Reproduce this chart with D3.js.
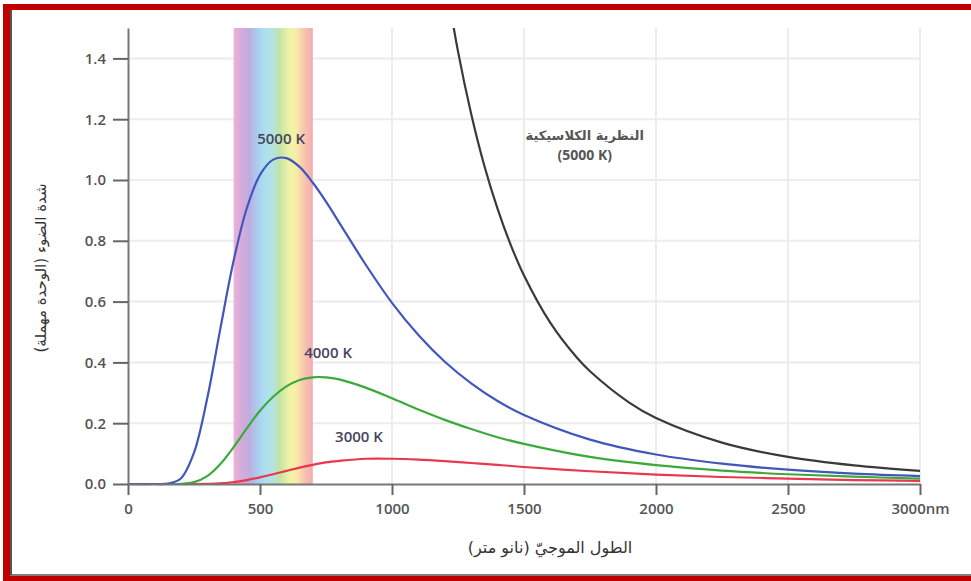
<!DOCTYPE html>
<html>
<head>
<meta charset="utf-8">
<script src="https://cdn.jsdelivr.net/npm/d3@7"></script>
<style>
  body { margin: 0; background: #fff; }
  #chart { width: 971px; height: 581px; }
  text { font-family: "Open Sans", "DejaVu Sans", sans-serif; }
</style>
</head>
<body>
<div id="chart"></div>
<script>
// wavelengths (nm) and relative intensities
const wavelengths = [0, 100, 150, 200, 250, 300, 350, 400, 450, 500, 550, 600, 650, 700, 750, 800,
    900, 1000, 1100, 1200, 1300, 1400, 1500, 1750, 2000, 2250, 2500, 2750, 3000];
const k5000 = [0, 0, 0.001, 0.018, 0.103, 0.281, 0.512, 0.734, 0.907, 1.017, 1.067, 1.072, 1.043, 0.991, 0.929, 0.860,
    0.722, 0.596, 0.490, 0.402, 0.331, 0.273, 0.227, 0.146, 0.097, 0.067, 0.047, 0.034, 0.026];
const k4000 = [0, 0, 0, 0.0005, 0.006, 0.026, 0.066, 0.121, 0.183, 0.241, 0.287, 0.321, 0.342, 0.351, 0.351, 0.344,
    0.317, 0.282, 0.245, 0.211, 0.181, 0.154, 0.132, 0.089, 0.062, 0.044, 0.032, 0.024, 0.018];
const k3000 = [0, 0, 0, 0, 0, 0.0005, 0.002, 0.006, 0.013, 0.022, 0.032, 0.043, 0.054, 0.063, 0.071, 0.076,
    0.083, 0.083, 0.080, 0.075, 0.069, 0.063, 0.056, 0.042, 0.031, 0.023, 0.018, 0.013, 0.010];

// classical theory (5000 K)
const classicalWl = [1200, 1250, 1300, 1350, 1400, 1450, 1500, 1600, 1700, 1750, 1900, 2000, 2250, 2500, 2750, 3000];
const classicalVals = [1.676, 1.423, 1.217, 1.046, 0.905, 0.786, 0.686, 0.530, 0.416, 0.371, 0.267, 0.217, 0.136, 0.089, 0.061, 0.043];

const xTicks = [0, 500, 1000, 1500, 2000, 2500, 3000];
const yTicks = [0, 0.2, 0.4, 0.6, 0.8, 1.0, 1.2, 1.4];
const visibleBand = [400, 700];

const series = [
    {name: "3000 K", values: k3000, color: "#e8374f"},
    {name: "4000 K", values: k4000, color: "#3caa3a"},
    {name: "5000 K", values: k5000, color: "#4256bb"}
];

const margin = {top: 28, right: 51, bottom: 97, left: 128};
const W = 971, H = 581;
const width = W - margin.left - margin.right;
const height = H - margin.top - margin.bottom;

const svg = d3.select("#chart").append("svg")
    .attr("width", W)
    .attr("height", H);

// frame
svg.append("rect").attr("x", 3).attr("y", 4).attr("width", 968).attr("height", 6).attr("fill", "#c00000");
svg.append("rect").attr("x", 3).attr("y", 4).attr("width", 7).attr("height", 577).attr("fill", "#c00000");
svg.append("rect").attr("x", 3).attr("y", 576).attr("width", 968).attr("height", 5).attr("fill", "#c00000");
svg.append("line").attr("x1", 11).attr("x2", 11).attr("y1", 10).attr("y2", 575)
    .attr("stroke", "#555").attr("stroke-width", 2);
svg.append("line").attr("x1", 10).attr("x2", 971).attr("y1", 575).attr("y2", 575)
    .attr("stroke", "#555").attr("stroke-width", 1.5);

const g = svg.append("g")
    .attr("transform", `translate(${margin.left},${margin.top})`);

const x = d3.scaleLinear().domain([0, 3000]).range([0, width]);
const y = d3.scaleLinear().domain([0, 1.5]).range([height, 0]);

// grid
g.selectAll(".hgrid").data(yTicks.slice(1)).join("line")
    .attr("x1", 0).attr("x2", width)
    .attr("y1", d => y(d)).attr("y2", d => y(d))
    .attr("stroke", "#ececec").attr("stroke-width", 2);
g.selectAll(".vgrid").data(xTicks.slice(1)).join("line")
    .attr("x1", d => x(d)).attr("x2", d => x(d))
    .attr("y1", 0).attr("y2", height)
    .attr("stroke", "#ececec").attr("stroke-width", 2);

// visible spectrum band
const defs = svg.append("defs");
const grad = defs.append("linearGradient").attr("id", "spectrum")
    .attr("x1", "0%").attr("x2", "100%").attr("y1", "0%").attr("y2", "0%");
[
    [0, "#ebb3d8"], [0.1, "#d6abda"], [0.2, "#bcaee0"], [0.3, "#aacdee"], [0.4, "#ade0f0"],
    [0.5, "#b5e3e0"], [0.58, "#c3e3a6"], [0.7, "#eef3a6"], [0.78, "#f8efa6"], [0.88, "#f8c9b0"], [1, "#f5a9b0"]
].forEach(s => grad.append("stop").attr("offset", s[0]).attr("stop-color", s[1]));

g.append("rect")
    .attr("x", x(visibleBand[0]))
    .attr("y", 0)
    .attr("width", x(visibleBand[1]) - x(visibleBand[0]))
    .attr("height", height)
    .attr("fill", "url(#spectrum)");

// clip for curves
defs.append("clipPath").attr("id", "plotClip").append("rect")
    .attr("x", 0).attr("y", 0).attr("width", width).attr("height", height + 2);

const line = d3.line()
    .x(d => x(d[0]))
    .y(d => y(Math.max(0, d[1])))
    .curve(d3.curveCatmullRom.alpha(0.5));

const curves = g.append("g").attr("clip-path", "url(#plotClip)");

series.forEach(s => {
    curves.append("path")
        .datum(wavelengths.map((w, i) => [w, s.values[i]]))
        .attr("fill", "none")
        .attr("stroke", s.color)
        .attr("stroke-width", 2.2)
        .attr("d", line);
});

curves.append("path")
    .datum(classicalWl.map((w, i) => [w, classicalVals[i]]))
    .attr("fill", "none")
    .attr("stroke", "#3a3a3a")
    .attr("stroke-width", 2.2)
    .attr("d", line);

// axes
const xAxis = g.append("g")
    .attr("transform", `translate(0,${height})`)
    .call(d3.axisBottom(x).tickValues(xTicks)
        .tickFormat(d => d === 3000 ? "3000nm" : d)
        .tickSize(11).tickSizeOuter(0).tickPadding(8));

const yAxis = g.append("g")
    .call(d3.axisLeft(y).tickValues(yTicks)
        .tickFormat(d3.format(".1f"))
        .tickSize(15).tickSizeOuter(0).tickPadding(7));

[xAxis, yAxis].forEach(a => {
    a.select(".domain").attr("stroke", "#777").attr("stroke-width", 2);
    a.selectAll(".tick line").attr("stroke", "#666").attr("stroke-width", 2);
    a.selectAll(".tick text")
        .attr("fill", "#555")
        .style("font-size", "15px")
        .style("font-weight", "600")
        .style("font-family", "'Open Sans', sans-serif");
});

// curve labels
const labelStyle = sel => sel
    .attr("fill", "#454560")
    .style("font-size", "15px")
    .style("font-weight", "600");

g.append("text").attr("x", x(580)).attr("y", y(1.12)).attr("text-anchor", "middle")
    .text("5000 K").call(labelStyle);
g.append("text").attr("x", x(758)).attr("y", y(0.414)).attr("text-anchor", "middle")
    .text("4000 K").call(labelStyle);
g.append("text").attr("x", x(875)).attr("y", y(0.138)).attr("text-anchor", "middle")
    .text("3000 K").call(labelStyle);

const classical = g.append("text").attr("text-anchor", "middle")
    .attr("fill", "#555")
    .style("font-size", "14px")
    .style("font-weight", "700");
classical.append("tspan").attr("x", x(1730)).attr("y", y(1.13)).attr("direction", "rtl")
    .style("font-family", "'DejaVu Sans', sans-serif").style("font-size", "13px")
    .text("النظرية الكلاسيكية");
classical.append("tspan").attr("x", x(1730)).attr("y", y(1.065))
    .text("(5000 K)");

// axis titles
svg.append("text")
    .attr("x", 550).attr("y", 553)
    .attr("text-anchor", "middle")
    .attr("direction", "rtl")
    .attr("fill", "#333")
    .style("font-size", "16px")
    .style("font-family", "'DejaVu Sans', sans-serif")
    .text("الطول الموجيّ (نانو متر)");

svg.append("text")
    .attr("transform", "translate(46,268) rotate(-90)")
    .attr("text-anchor", "middle")
    .attr("direction", "rtl")
    .attr("fill", "#333")
    .style("font-size", "15px")
    .style("font-family", "'DejaVu Sans', sans-serif")
    .text("شدة الضوء (الوحدة مهملة)");
</script>
</body>
</html>
